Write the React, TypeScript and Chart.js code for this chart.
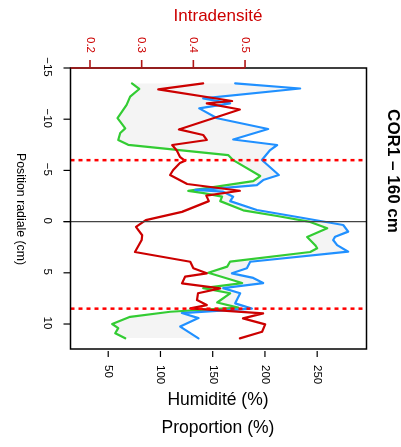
import { useEffect, useRef } from "react";
import { Chart, registerables } from "chart.js";
Chart.register(...registerables);

// Radial position (cm) and values
const greenY = [-13.5, -12.95, -12.2, -11.4, -10.1, -9.1, -8.65, -7.97, -7.5, -6.5, -6.0, -4.45, -3.96, -3.37, -3.0, -2.8, -2.44, -2.0, -1.1, -0.55, 0.03, 0.65, 1.5, 2.3, 2.6, 2.97, 3.9, 4.4, 5.0, 6.0, 6.5, 7.0, 7.9, 8.4, 8.8, 9.3, 10.0, 10.4, 10.9, 11.4];
const greenH = [72.7, 79.7, 71, 67.6, 58.9, 66.3, 61.5, 59.6, 69.1, 164.8, 169.6, 195.5, 188.8, 150.5, 126.6, 140, 159, 157.2, 179.2, 211.7, 243.3, 259.6, 240.4, 248.1, 250, 243.3, 166.7, 163.9, 145.7, 178.2, 140.9, 166.7, 154.3, 174.4, 109.3, 71, 53.8, 59.6, 56.7, 66.3];

const blueY = [-13.5, -13.0, -12.04, -11.55, -11.06, -10.09, -9.04, -8.02, -7.48, -6.99, -6.02, -4.55, -4.06, -3.57, -3.18, -3.09, -2.92, -2.43, -2.0, -1.13, -0.35, 0.33, 0.98, 1.47, 1.8, 2.3, 2.94, 3.92, 4.56, 5.05, 5.5, 6.0, 6.5, 7.0, 7.98, 8.5, 8.93, 9.42, 10.25, 11.4];
const blueH = [171.5, 233.7, 140.9, 166.7, 137.1, 154.3, 203.1, 169.6, 211.7, 205, 197.1, 213.3, 198.3, 192.3, 147.6, 133.3, 160, 169.6, 166.7, 192.3, 236.6, 274.9, 279.7, 267.2, 265.3, 269.1, 279.7, 185.9, 182.7, 168.4, 188.8, 198.3, 160, 176.3, 171.5, 187.5, 120.5, 136.4, 118.9, 136.4];

const redY = [-13.5, -12.92, -11.78, -11.55, -10.95, -9.0, -8.46, -7.97, -7.48, -6.94, -6.33, -5.94, -5.72, -5.04, -4.55, -3.67, -3.01, -2.54, -2.0, -0.95, -0.14, 0.52, 1.33, 1.8, 2.97, 3.92, 4.56, 5.05, 5.38, 6.03, 6.52, 7.0, 7.66, 8.15, 8.48, 8.96, 9.45, 10.04, 10.76, 11.4];
const redD = [0.419, 0.332, 0.475, 0.426, 0.49, 0.372, 0.419, 0.426, 0.359, 0.368, 0.374, 0.384, 0.374, 0.361, 0.355, 0.388, 0.49, 0.425, 0.43, 0.378, 0.308, 0.289, 0.301, 0.3, 0.287, 0.394, 0.4, 0.426, 0.384, 0.378, 0.452, 0.409, 0.407, 0.426, 0.394, 0.535, 0.496, 0.539, 0.533, 0.49];

const yTicks = [-15, -10, -5, 0, 5, 10];
const humTicks = [50, 100, 150, 200, 250];
const densTicks = [0.2, 0.3, 0.4, 0.5];
const dottedLevels = [-6, 8.5];

const FONT = '"Liberation Sans", Arial, Helvetica, sans-serif';

function vtext(ctx: CanvasRenderingContext2D, text: string, x: number, y: number, align: CanvasTextAlign) {
  ctx.save();
  ctx.translate(x, y);
  ctx.rotate(Math.PI / 2);
  ctx.textAlign = align;
  ctx.textBaseline = "middle";
  ctx.fillText(text, 0, 0);
  ctx.restore();
}

const axesPlugin = {
  id: "customAxes",
  afterDatasetsDraw(chart: any) {
    const { ctx, chartArea } = chart;
    const { left, right, top, bottom } = chartArea;
    const xs = chart.scales.x;
    const x2 = chart.scales.x2;
    const ys = chart.scales.y;
    ctx.save();

    // zero line
    const y0 = ys.getPixelForValue(0);
    ctx.strokeStyle = "#444";
    ctx.lineWidth = 1.4;
    ctx.beginPath();
    ctx.moveTo(left - 7, y0);
    ctx.lineTo(right, y0);
    ctx.stroke();

    // dotted red lines
    ctx.strokeStyle = "#FF0000";
    ctx.lineWidth = 2.5;
    ctx.setLineDash([4, 4]);
    for (const v of dottedLevels) {
      const py = ys.getPixelForValue(v);
      ctx.beginPath();
      ctx.moveTo(left, py);
      ctx.lineTo(right, py);
      ctx.stroke();
    }
    ctx.setLineDash([]);

    // box
    ctx.strokeStyle = "#000";
    ctx.lineWidth = 1.5;
    ctx.strokeRect(left, top, right - left, bottom - top);

    // top red axis line
    ctx.strokeStyle = "#B01515";
    ctx.lineWidth = 1.6;
    ctx.beginPath();
    ctx.moveTo(left, top);
    ctx.lineTo(x2.getPixelForValue(0.5), top);
    ctx.stroke();

    ctx.font = `11.5px ${FONT}`;
    // top ticks
    ctx.fillStyle = "#CC0000";
    for (const t of densTicks) {
      const px = x2.getPixelForValue(t);
      ctx.beginPath();
      ctx.moveTo(px, top - 8);
      ctx.lineTo(px, top);
      ctx.stroke();
      vtext(ctx, t.toFixed(1), px, top - 15, "right");
    }

    // bottom ticks
    ctx.strokeStyle = "#000";
    ctx.lineWidth = 1.2;
    ctx.fillStyle = "#000";
    for (const t of humTicks) {
      const px = xs.getPixelForValue(t);
      ctx.beginPath();
      ctx.moveTo(px, bottom + 2);
      ctx.lineTo(px, bottom + 8);
      ctx.stroke();
      vtext(ctx, String(t), px, bottom + 16, "left");
    }

    // left ticks
    for (const t of yTicks) {
      const py = ys.getPixelForValue(t);
      ctx.beginPath();
      ctx.moveTo(left - 7, py);
      ctx.lineTo(left, py);
      ctx.stroke();
      vtext(ctx, t < 0 ? "\u2212" + Math.abs(t) : String(t), left - 23, py - 1, "center");
    }

    // titles
    ctx.fillStyle = "#000";
    ctx.font = `12.3px ${FONT}`;
    vtext(ctx, "Position radiale (cm)", 20, 209, "center");

    ctx.font = `17.5px ${FONT}`;
    ctx.textAlign = "center";
    ctx.textBaseline = "middle";
    ctx.fillText("Humidité (%)", 218, 400);
    ctx.fillText("Proportion (%)", 218, 428);

    ctx.fillStyle = "#CC0000";
    ctx.font = `17px ${FONT}`;
    ctx.fillText("Intradensité", 218, 16);

    ctx.fillStyle = "#000";
    ctx.font = `bold 17px ${FONT}`;
    vtext(ctx, "COR1 \u2013 160 cm", 393, 171, "center");

    ctx.restore();
  },
};

export default function App() {
  const ref = useRef<HTMLCanvasElement>(null);
  useEffect(() => {
    const green = greenY.map((y, i) => ({ x: greenH[i], y }));
    const blue = blueY.map((y, i) => ({ x: blueH[i], y }));
    const red = redY.map((y, i) => ({ x: redD[i], y }));
    const chart = new Chart(ref.current as HTMLCanvasElement, {
      type: "line",
      data: {
        datasets: [
          {
            label: "Humidité",
            data: green,
            borderColor: "#33CC33",
            backgroundColor: "#F4F4F4",
            fill: "+1",
            xAxisID: "x",
            yAxisID: "y",
            order: 2,
          },
          {
            label: "Proportion",
            data: blue,
            borderColor: "#2090FF",
            xAxisID: "x",
            yAxisID: "y",
            fill: false,
            order: 1,
          },
          {
            label: "Intradensité",
            data: red,
            borderColor: "#CC0000",
            xAxisID: "x2",
            yAxisID: "y",
            fill: false,
            order: 0,
          },
        ],
      } as any,
      options: {
        indexAxis: "y",
        responsive: false,
        animation: false,
        devicePixelRatio: 1,
        parsing: true,
        elements: {
          point: { radius: 0 },
          line: { borderWidth: 2.2, tension: 0, borderJoinStyle: "round", borderCapStyle: "round" },
        },
        layout: { padding: { left: 70.5, top: 68, right: 34.5, bottom: 98 } },
        scales: {
          x: { type: "linear", min: 13.9, max: 297.2, display: false },
          x2: { type: "linear", min: 0.1623, max: 0.735, display: false, position: "top" },
          y: { type: "linear", min: -15, max: 12.44, reverse: true, display: false },
        },
        plugins: {
          legend: { display: false },
          tooltip: { enabled: false },
          filler: { drawTime: "beforeDatasetsDraw" },
        },
      } as any,
      plugins: [axesPlugin],
    });
    return () => chart.destroy();
  }, []);
  return (
    <div style={{ position: "absolute", left: 0, top: 0, width: 401, height: 447, background: "#fff" }}>
      <canvas ref={ref} width={401} height={447} style={{ width: 401, height: 447, display: "block" }} />
    </div>
  );
}
